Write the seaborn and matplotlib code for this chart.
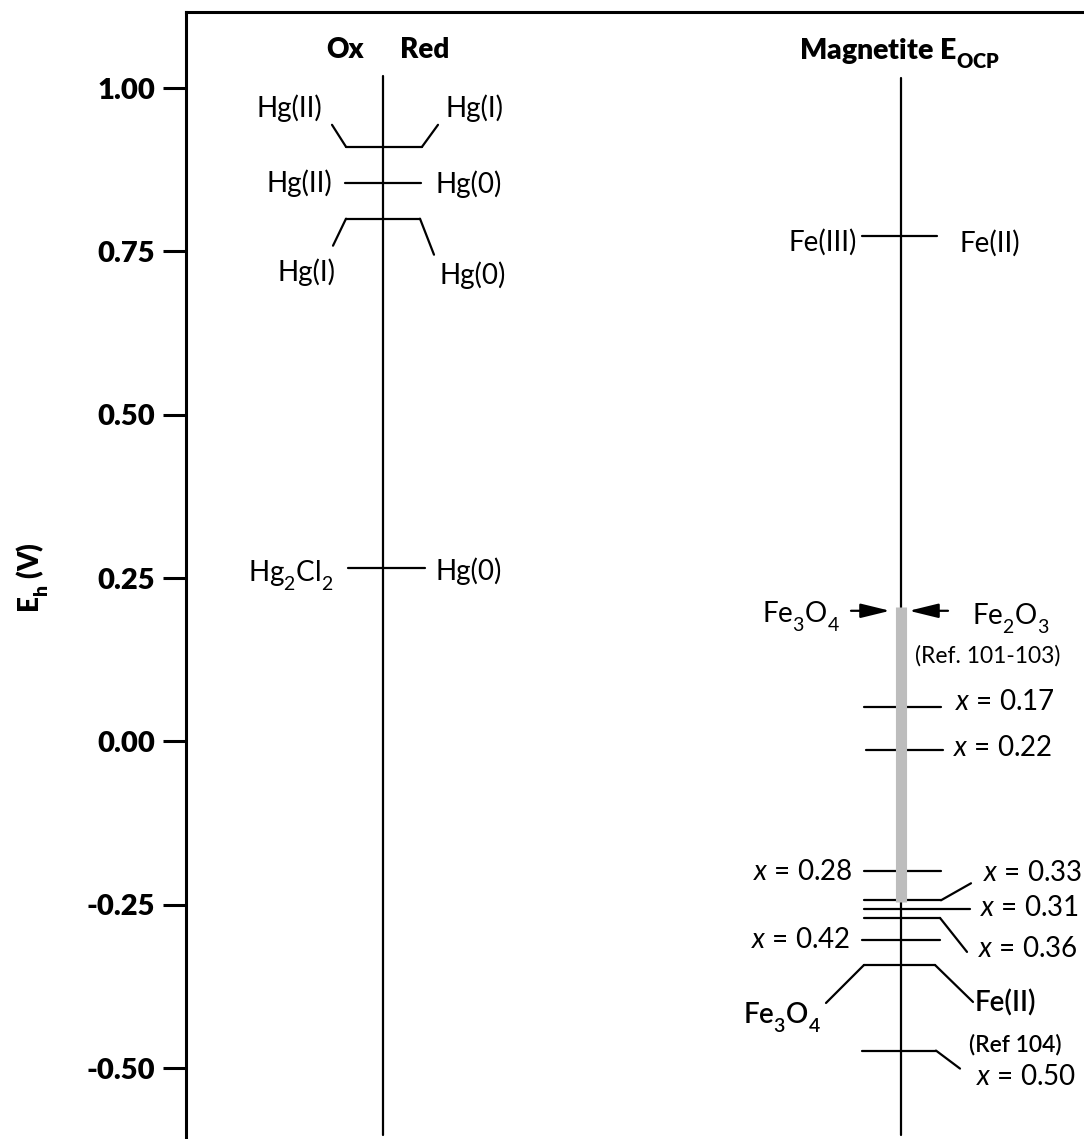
import matplotlib
matplotlib.use("Agg")
import matplotlib.pyplot as plt
from matplotlib.ticker import FixedLocator, FormatStrFormatter
import numpy as np
import pandas as pd
import seaborn as sns

# ---------------- data: potentials (V vs. SHE) ----------------
hg_E = [0.910, 0.855, 0.800, 0.265]
hg_ox = ["Hg(II)", "Hg(II)", "Hg(I)", "Hg$_2$Cl$_2$"]
hg_red = ["Hg(I)", "Hg(0)", "Hg(0)", "Hg(0)"]

fe_couple_E = 0.773                     # Fe(III)/Fe(II)
ocp_top, ocp_bottom = 0.206, -0.245     # magnetite E_OCP band
oxide_E = 0.200                         # Fe3O4 / Fe2O3 (Ref. 101-103)

x_stoich = ["0.17", "0.22", "0.28", "0.33", "0.31", "0.36", "0.42", "0.50"]
x_E = [0.053, -0.013, -0.198, -0.243, -0.256, -0.270, -0.304, -0.473]
fe3o4_fe2_E = -0.342                    # Fe3O4 / Fe(II) (Ref 104)

yticks = [1.00, 0.75, 0.50, 0.25, 0.00, -0.25, -0.50]

# ---------------- layout (horizontal units = canvas pixels) ----------------
HG_X, MAG_X = 197, 715
YMIN, YMAX = -0.6083, 1.1163
V_PER_PX = (YMAX - YMIN) / 1127.0

sns.set_theme(style="white", rc={"text.color": "black", "axes.labelcolor": "black",
                                 "xtick.color": "black", "ytick.color": "black"})
plt.rcParams["font.family"] = ["Lato", "DejaVu Sans"]
plt.rcParams["mathtext.fontset"] = "custom"
plt.rcParams["mathtext.rm"] = "Lato"
plt.rcParams["mathtext.it"] = "Lato:italic"
plt.rcParams["mathtext.bf"] = "Lato:bold"
plt.rcParams["mathtext.default"] = "regular"
plt.rcParams["axes.unicode_minus"] = False

# deeper subscripts for chemical formulas
try:
    from matplotlib import _mathtext

    class _LatoConstants(_mathtext.FontConstantsBase):
        sub1 = 0.6
        sub2 = 0.6

    _mathtext._font_constant_mapping["Lato"] = _LatoConstants
except Exception:
    pass

FS = 20
FS_TICK = 21
FS_SMALL = 16.5
HEAVY = "heavy"

fig = plt.figure(figsize=(10.84, 11.39), dpi=100)
ax = fig.add_axes([186 / 1084, 0, 898 / 1084, 1127 / 1139])

# level-line geometry: (x0, x1) relative to column, plus leader segments
hg_geom = [
    dict(span=(-37, 39), leaders=[((-37, 0), (-51, 22)), ((39, 0), (55, 22))]),
    dict(span=(-38, 38), leaders=[]),
    dict(span=(-37, 37), leaders=[((-37, 0), (-50, -27)), ((37, 0), (51, -36))]),
    dict(span=(-35, 42), leaders=[]),
]
x_geom = [
    dict(span=(-37, 40), leaders=[]),
    dict(span=(-35, 42), leaders=[]),
    dict(span=(-37, 40), leaders=[]),
    dict(span=(-37, 40), leaders=[((40, 0), (70, 17))]),
    dict(span=(-37, 69), leaders=[]),
    dict(span=(-37, 39), leaders=[((39, 0), (66, -34))]),
    dict(span=(-39, 39), leaders=[]),
    dict(span=(-39, 35), leaders=[((35, 0), (59, -18))]),
]

rows = []
seg = 0


def add_segment(pts):
    global seg
    for px, E in pts:
        rows.append(dict(seg=seg, x=px, E=E))
    seg += 1


def add_level(col, E, geom):
    x0, x1 = geom["span"]
    add_segment([(col + x0, E), (col + x1, E)])
    for (ax0, ay0), (ax1, ay1) in geom["leaders"]:
        add_segment([(col + ax0, E + ay0 * V_PER_PX), (col + ax1, E + ay1 * V_PER_PX)])


# vertical potential axes of the two columns
add_segment([(HG_X, 1.018), (HG_X, -0.602)])
add_segment([(MAG_X, 1.015), (MAG_X, -0.602)])

for E, g in zip(hg_E, hg_geom):
    add_level(HG_X, E, g)
add_level(MAG_X, fe_couple_E, dict(span=(-39, 36), leaders=[]))
for E, g in zip(x_E, x_geom):
    add_level(MAG_X, E, g)
add_level(MAG_X, fe3o4_fe2_E,
          dict(span=(-37, 34), leaders=[((-37, 0), (-75, -38)), ((34, 0), (72, -37))]))

segs = pd.DataFrame(rows)
sns.lineplot(data=segs, x="x", y="E", units="seg", estimator=None, sort=False,
             color="black", lw=1.6, ax=ax, legend=False)

# magnetite open-circuit potential band
ax.vlines(MAG_X, ocp_bottom, ocp_top, color="#bdbdbd", lw=8, zorder=3,
          capstyle="butt")

# converging arrows at the Fe3O4/Fe2O3 potential
arrow = dict(arrowstyle="-|>,head_length=0.9,head_width=0.22", mutation_scale=20,
             lw=1.6, color="black", shrinkA=0, shrinkB=0)
ax.annotate("", xy=(MAG_X - 11, oxide_E), xytext=(MAG_X - 50, oxide_E), arrowprops=arrow)
ax.annotate("", xy=(MAG_X + 8, oxide_E), xytext=(MAG_X + 47, oxide_E), arrowprops=arrow)


def label(col, dx, E, dy, s, ha, size=FS, weight="normal"):
    ax.text(col + dx, E + dy * V_PER_PX, s, ha=ha, va="center", fontsize=size,
            fontweight=weight, color="black", zorder=5)


# mercury couples
hg_lab = [((-61, 39), (63, 39)), ((-51, 0), (52, -1)), ((-48, -53), (56, -56)),
          ((-50, -7), (52, -3))]
for E, ox, red, ((lx, ly), (rx, ry)) in zip(hg_E, hg_ox, hg_red, hg_lab):
    label(HG_X, lx, E, ly, ox, "right")
    label(HG_X, rx, E, ry, red, "left")

# iron couples
label(MAG_X, -44, fe_couple_E, -6, "Fe(III)", "right")
label(MAG_X, 59, fe_couple_E, -7, "Fe(II)", "left")
label(MAG_X, -61, oxide_E, -5, "Fe$_3$O$_4$", "right")
label(MAG_X, 71, oxide_E, -7, "Fe$_2$O$_3$", "left")
label(MAG_X, 87, oxide_E, -45, "(Ref. 101-103)", "center", size=FS_SMALL)

x_lab = [(54, 5, "left"), (52, 2, "left"), (-48, -1, "right"), (82, 27, "left"),
         (79, 1, "left"), (77, -31, "left"), (-51, 0, "right"), (75, -26, "left")]
for E, xs, (dx, dy, ha) in zip(x_E, x_stoich, x_lab):
    label(MAG_X, dx, E, dy, r"$\it{x}$ = " + xs, ha)

label(MAG_X, -80, fe3o4_fe2_E, -52, "Fe$_3$O$_4$", "right", weight="semibold")
label(MAG_X, 74, fe3o4_fe2_E, -38, "Fe(II)", "left", weight="semibold")
label(MAG_X, 114, fe3o4_fe2_E, -80, "(Ref 104)", "center", size=FS_SMALL,
      weight="semibold")

# column headers
ax.text(HG_X - 19, 1.058, "Ox", ha="right", va="center", fontsize=FS, fontweight=HEAVY)
ax.text(HG_X + 17, 1.058, "Red", ha="left", va="center", fontsize=FS, fontweight=HEAVY)
ax.text(MAG_X - 2, 1.053, "Magnetite E$_{OCP}$", ha="center", va="center",
        fontsize=20.5, fontweight=HEAVY)

# axes styling
ax.set_xlim(0, 898)
ax.set_ylim(YMIN, YMAX)
ax.set_xticks([])
ax.yaxis.set_major_locator(FixedLocator(yticks))
ax.yaxis.set_major_formatter(FormatStrFormatter("%.2f"))
ax.tick_params(axis="y", direction="out", length=16.5, width=2.2, pad=5.5,
               labelsize=FS_TICK, left=True, colors="black")
for t in ax.get_yticklabels():
    t.set_fontweight(HEAVY)
for side in ("right", "bottom"):
    ax.spines[side].set_visible(False)
for side in ("top", "left"):
    ax.spines[side].set_linewidth(2.2)
    ax.spines[side].set_color("black")
ax.set_xlabel("")
ax.set_ylabel("")
ax.text(-0.1715, 0.4978, "E$_h$ (V)", transform=ax.transAxes, rotation=90,
        ha="center", va="center", fontsize=FS, fontweight=HEAVY)

fig.savefig("out.png", dpi=100)
